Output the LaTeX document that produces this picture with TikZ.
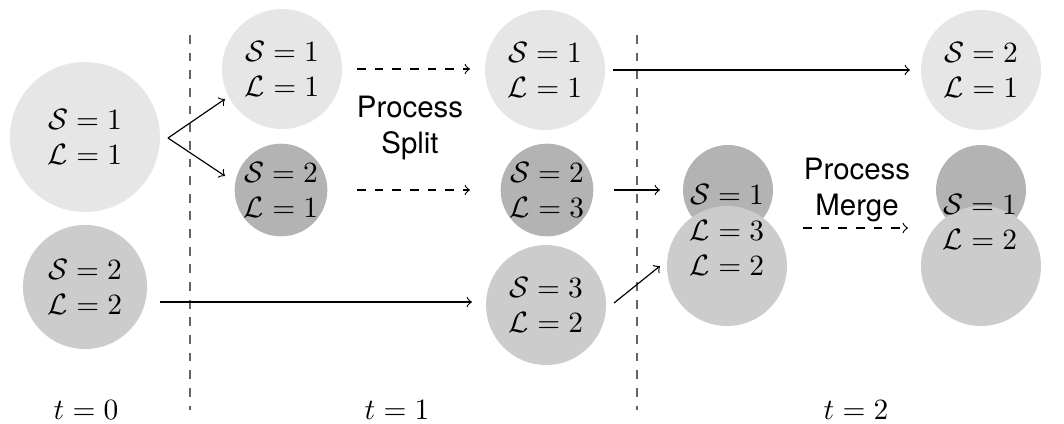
\documentclass[tikz,border=0pt]{standalone}
\usepackage{fontspec}
\newfontfamily\hv{TeX Gyre Heros}
\definecolor{lightc}{RGB}{230,230,230}
\definecolor{midc}{RGB}{204,204,204}
\definecolor{darkc}{RGB}{179,179,179}
\definecolor{sepc}{RGB}{100,100,100}
\begin{document}
\begin{tikzpicture}[x=0.34pt,y=-0.34pt,
  blob/.style={circle,inner sep=0pt,align=center},
  lightblob/.style={blob,fill=lightc,minimum size=40.8pt},
  midblob/.style={blob,fill=midc,minimum size=40.8pt},
  darkblob/.style={blob,fill=darkc,minimum size=30.6pt},
  txt/.style={align=center,inner sep=0pt},
  proc/.style={align=center,inner sep=0pt,font=\hv},
  arr/.style={->,line width=0.4pt},
  darr/.style={->,dashed,line width=0.4pt},
  sep/.style={dashed,draw=sepc,line width=0.6pt}]
\useasboundingbox (0,0) rectangle (1064,423);
% separators
\coordinate (s1t) at (190,35); \coordinate (s1b) at (190,410);
\coordinate (s2t) at (637,35); \coordinate (s2b) at (637,410);
\draw[sep] (s1t) -- (s1b);
\draw[sep] (s2t) -- (s2b);
% t = 0
\node[blob,fill=lightc,minimum size=51pt] (A) at (85,137) {$\mathcal{S}=1$\\$\mathcal{L}=1$};
\node[blob,fill=midc,minimum size=42.2pt] (B) at (85,287) {$\mathcal{S}=2$\\$\mathcal{L}=2$};
% t = 1, first column
\node[lightblob] (C) at (282,69) {$\mathcal{S}=1$\\$\mathcal{L}=1$};
\node[darkblob] (D) at (281,190) {$\mathcal{S}=2$\\$\mathcal{L}=1$};
% t = 1, second column
\node[lightblob] (E) at (545,70) {$\mathcal{S}=1$\\$\mathcal{L}=1$};
\node[darkblob] (F) at (547,190) {$\mathcal{S}=2$\\$\mathcal{L}=3$};
\node[midblob] (G) at (546,305) {$\mathcal{S}=3$\\$\mathcal{L}=2$};
% t = 2 merged (left)
\node[darkblob] (Hd) at (728,190) {};
\node[midblob] (Hl) at (727,266) {};
\node[txt] (H) at (727,230) {$\mathcal{S}=1$\\$\mathcal{L}=3$\\$\mathcal{L}=2$};
% t = 2 right
\node[lightblob] (I) at (981,70) {$\mathcal{S}=2$\\$\mathcal{L}=1$};
\node[darkblob] (Jd) at (981,190) {};
\node[midblob] (Jl) at (981,266) {};
\node[txt] (J) at (980,222) {$\mathcal{S}=1$\\$\mathcal{L}=2$};
% process labels
\node[proc] (PS) at (410,128) {Process\\Split};
\node[proc] (PM) at (857,190) {Process\\Merge};
% time labels
\node[txt] (t0) at (86,410) {$t=0$};
\node[txt] (t1) at (397,410) {$t=1$};
\node[txt] (t2) at (856,410) {$t=2$};
% connector coordinates
\coordinate (a0) at (168,138);
\coordinate (c0) at (225,99);
\coordinate (d0) at (225,176);
\coordinate (c1) at (357,69); \coordinate (e0) at (470,69);
\coordinate (d1) at (357,190); \coordinate (f0) at (470,190);
\coordinate (b1) at (160,302); \coordinate (g0) at (472,302);
\coordinate (e1) at (613,70); \coordinate (i0) at (910,70);
\coordinate (f1) at (614,190); \coordinate (h0) at (660,190);
\coordinate (g1) at (614,303); \coordinate (h1) at (660,266);
\coordinate (m0) at (803,228); \coordinate (m1) at (908,228);
% connectors
\draw[arr] (a0) -- (c0);
\draw[arr] (a0) -- (d0);
\draw[darr] (c1) -- (e0);
\draw[darr] (d1) -- (f0);
\draw[arr] (b1) -- (g0);
\draw[arr] (e1) -- (i0);
\draw[arr] (f1) -- (h0);
\draw[arr] (g1) -- (h1);
\draw[darr] (m0) -- (m1);
\end{tikzpicture}
\end{document}
